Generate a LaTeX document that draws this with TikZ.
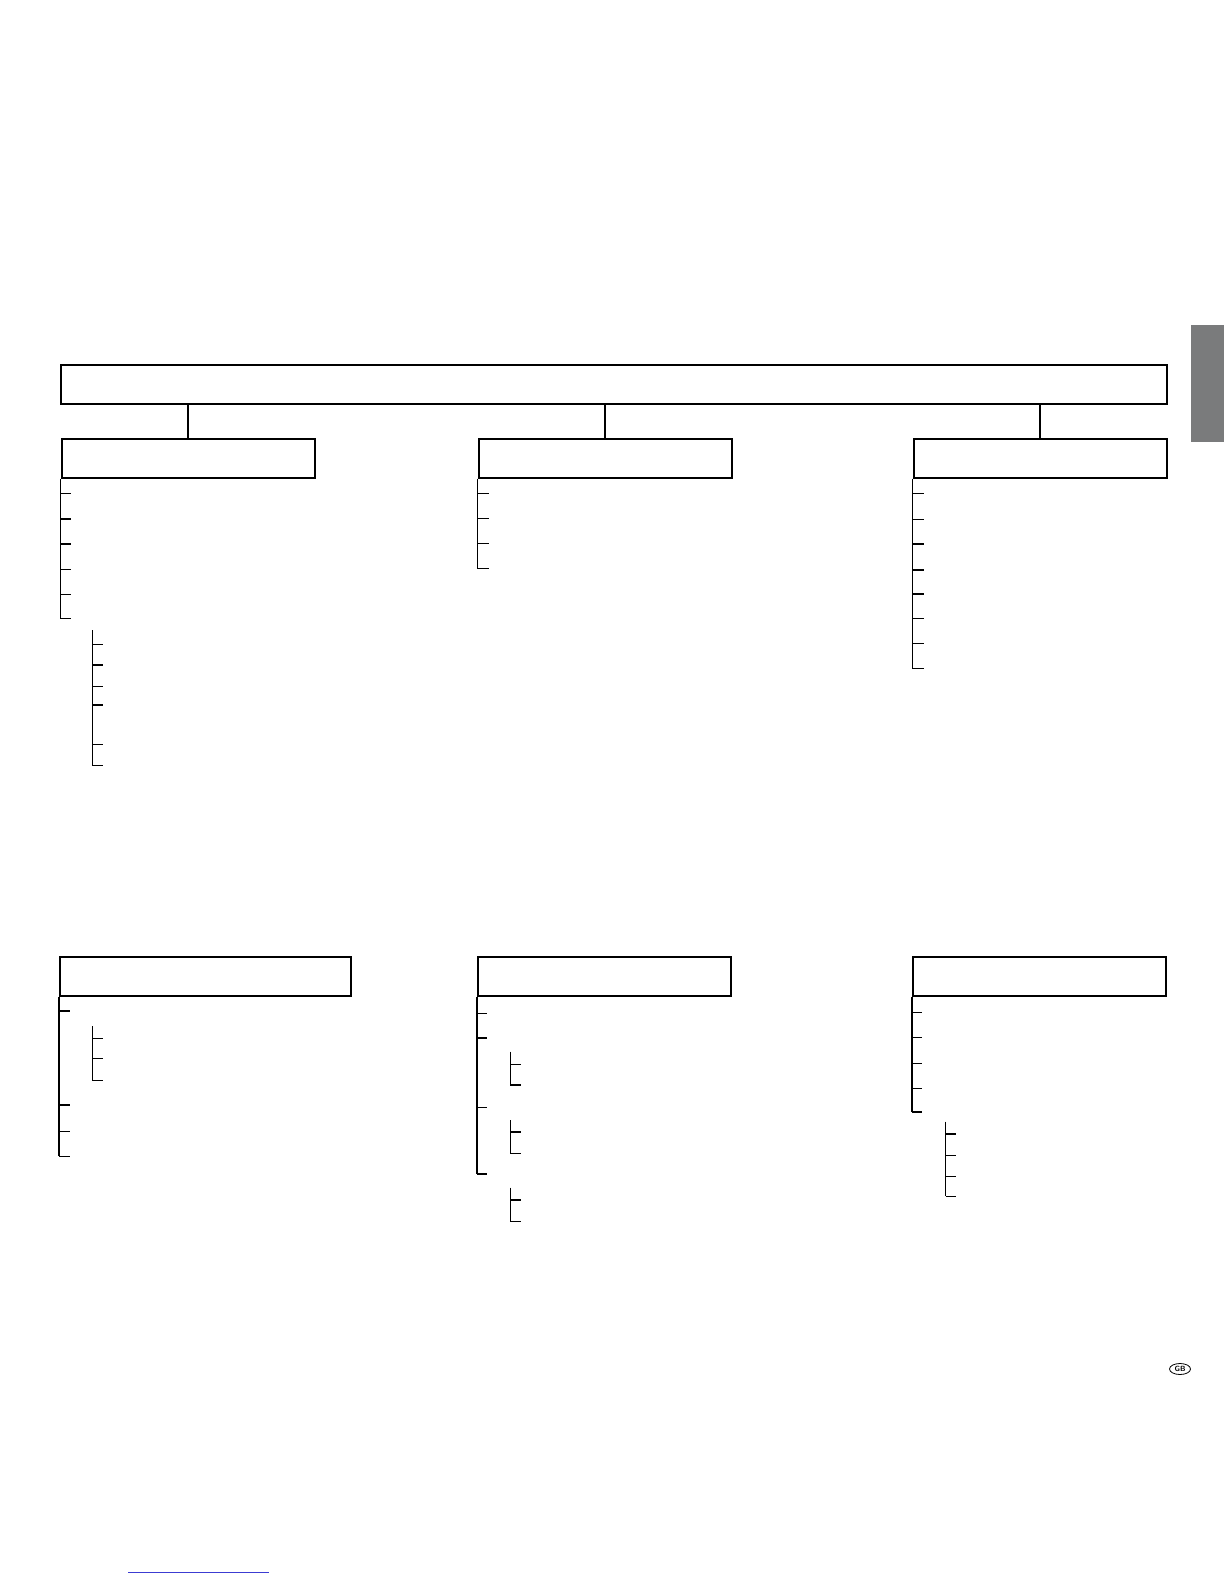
\documentclass[tikz,border=0pt]{standalone}
\usetikzlibrary{shapes.geometric}
\definecolor{tabgray}{RGB}{122,123,124}
\definecolor{linkblue}{RGB}{60,60,210}
\begin{document}
\begin{tikzpicture}[x=1pt,y=-1pt,
  box/.style={draw, line width=1.8pt, inner sep=0pt, anchor=north west},
  stem/.style={line width=1.6pt},
  spine/.style={line width=1.3pt},
  twig/.style={line width=1.4pt},
  subspine/.style={line width=1.1pt},
  subtwig/.style={line width=1.1pt}]
\useasboundingbox (0,0) rectangle (1224,1584);
% gray tab
\fill[tabgray] (1191,325) rectangle (1224,441.7);
% main box
\node[box, minimum width=1106pt, minimum height=38.7pt] (main) at (60,364) {};
% top row boxes
\node[box, minimum width=253.3pt, minimum height=39.3pt] (b1) at (60.7,437.7) {};
\node[box, minimum width=253.3pt, minimum height=39pt] (b2) at (477.7,437.7) {};
\node[box, minimum width=253.3pt, minimum height=39pt] (b3) at (912.7,437.7) {};
\draw[stem] (main.south -| b1.north) -- (b1.north);
\draw[stem] (main.south -| b2.north) -- (b2.north);
\draw[stem] (main.south -| b3.north) -- (b3.north);
% bottom row boxes
\node[box, minimum width=291.3pt, minimum height=38.7pt] (b4) at (59,956) {};
\node[box, minimum width=253pt, minimum height=39pt] (b5) at (477,955.7) {};
\node[box, minimum width=253.3pt, minimum height=39pt] (b6) at (912,955.7) {};

% box 1 tree
\coordinate (e1) at (b1.south west |- 0,618.7);
\draw[spine] (b1.south west) -- (e1);
\foreach \y in {493.7,519,544,569.3,594.3,618.7}
  \draw[twig] (b1.south west |- 0,\y) -- ++(10.7,0);
\coordinate (s1a) at (92.3,630.3);
\coordinate (s1b) at (92.3,765.3);
\draw[subspine] (s1a) -- (s1b);
\foreach \y in {644.7,665,686.3,705,744.3,765.3}
  \draw[subtwig] (92.3,\y) -- ++(10.4,0);

% box 2 tree
\coordinate (e2) at (b2.south west |- 0,568.7);
\draw[spine] (b2.south west) -- (e2);
\foreach \y in {493.7,518.7,543.7,568.7}
  \draw[twig] (b2.south west |- 0,\y) -- ++(11,0);

% box 3 tree
\coordinate (e3) at (b3.south west |- 0,668.7);
\draw[spine] (b3.south west) -- (e3);
\foreach \y in {493.7,519.3,544,570,594,618.3,643.3,668.7}
  \draw[twig] (b3.south west |- 0,\y) -- ++(11.3,0);

% box 4 tree
\coordinate (e4) at (b4.south west |- 0,1156.3);
\draw[spine] (b4.south west) -- (e4);
\foreach \y in {1011,1105,1131.3,1156.3}
  \draw[twig] (b4.south west |- 0,\y) -- ++(10.6,0);
\coordinate (s4a) at (92.3,1026.3);
\coordinate (s4b) at (92.3,1080.3);
\draw[subspine] (s4a) -- (s4b);
\foreach \y in {1038.7,1058.7,1080.3}
  \draw[subtwig] (92.3,\y) -- ++(10.4,0);

% box 5 tree
\coordinate (e5) at (b5.south west |- 0,1174);
\draw[spine] (b5.south west) -- (e5);
\foreach \y in {1013.3,1038,1107.7,1174}
  \draw[twig] (b5.south west |- 0,\y) -- ++(10.3,0);
\foreach \a/\b/\c in {1051.7/1064.3/1085, 1120/1132/1153.3, 1187.7/1200/1221.3}{
  \draw[subspine] (510.3,\a) -- (510.3,\c);
  \draw[subtwig] (510.3,\b) -- ++(10.4,0);
  \draw[subtwig] (510.3,\c) -- ++(10.4,0);
}

% box 6 tree
\coordinate (e6) at (b6.south west |- 0,1112);
\draw[spine] (b6.south west) -- (e6);
\foreach \y in {1012.7,1037.7,1063.3,1088.3,1112}
  \draw[twig] (b6.south west |- 0,\y) -- ++(10.3,0);
\coordinate (s6a) at (945.7,1121.7);
\coordinate (s6b) at (945.7,1196.3);
\draw[subspine] (s6a) -- (s6b);
\foreach \y in {1134,1155.3,1176.3,1196.3}
  \draw[subtwig] (945.7,\y) -- ++(10,0);

% GB mark
\node[draw, ellipse, line width=0.8pt, inner sep=0pt, minimum width=21pt, minimum height=11pt,
      font=\sffamily\bfseries\fontsize{7.5}{8}\selectfont] (gb) at (1180,1369) {GB};
% link underline
\coordinate (l1) at (128,1572);
\coordinate (l2) at (269,1572);
\draw[linkblue, line width=0.8pt] (l1) -- (l2);
\end{tikzpicture}
\end{document}
